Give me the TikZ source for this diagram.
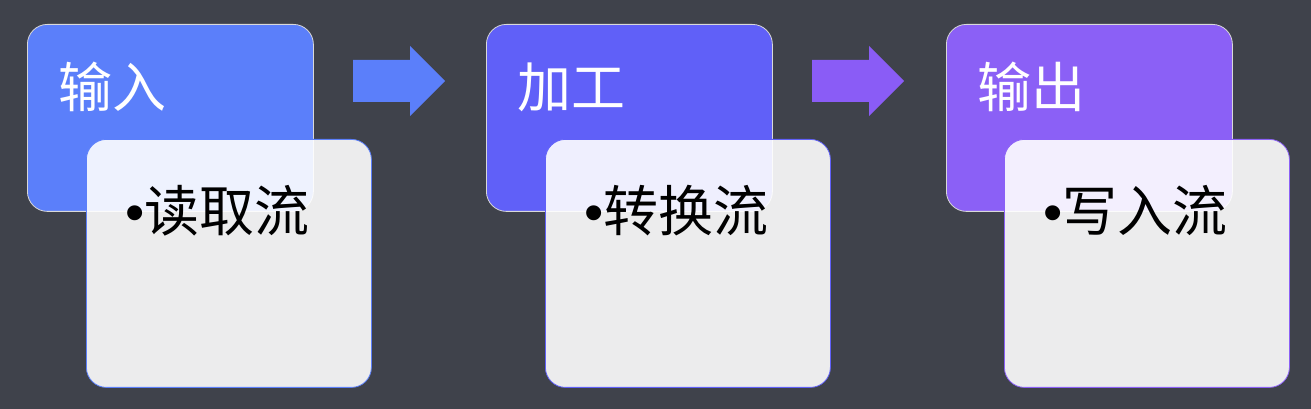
\documentclass[tikz,border=0pt]{standalone}
\usepackage{fontspec}
\newfontfamily\cjk{Noto Sans CJK SC}
\newfontfamily\latin{Liberation Sans}
\definecolor{bgdark}{HTML}{3F424B}
\definecolor{stageone}{HTML}{5B7FFA}
\definecolor{stagetwo}{HTML}{6060F8}
\definecolor{stagethree}{HTML}{8B60F6}
\definecolor{arrowtwo}{HTML}{8A5CF6}
\begin{document}
\begin{tikzpicture}[x=1pt, y=1pt,
    headbox/.style   = {draw=white!85!black, line width=0.8pt, rounded corners=20pt,
                        minimum width=286pt, minimum height=187pt, inner sep=0pt, anchor=north west},
    detailbox/.style = {fill=white, fill opacity=0.9, line width=0.8pt, rounded corners=20pt,
                        minimum width=285pt, minimum height=248pt, inner sep=0pt, anchor=north west},
    headtext/.style  = {text=white, font=\cjk\fontsize{54}{56}\selectfont, inner sep=0pt, anchor=west},
    itemtext/.style  = {text=black, font=\cjk\fontsize{55}{58}\selectfont, inner sep=0pt, anchor=west}]
    % background and page size
    \fill[bgdark] (0, 0) rectangle (1311, 409);
    \useasboundingbox (0, 0) rectangle (1311, 409);
    % corners of the boxes
    \coordinate (inputhead)   at (  27, 385);
    \coordinate (processhead) at ( 486, 385);
    \coordinate (outputhead)  at ( 946, 385);
    \coordinate (inputitem)   at (  86, 270);
    \coordinate (processitem) at ( 545, 270);
    \coordinate (outputitem)  at (1004, 270);
    % header boxes
    \node[headbox, fill=stageone]   (inbox)   at (inputhead)   {};
    \node[headbox, fill=stagetwo]   (procbox) at (processhead) {};
    \node[headbox, fill=stagethree] (outbox)  at (outputhead)  {};
    \node[headtext] (inlabel)   at ([shift={(31, -63)}]inbox.north west)   {输入};
    \node[headtext] (proclabel) at ([shift={(31, -63)}]procbox.north west) {加工};
    \node[headtext] (outlabel)  at ([shift={(31, -63)}]outbox.north west)  {输出};
    % detail boxes, lying over the headers
    \node[detailbox, draw=stageone]   (initem)   at (inputitem)   {};
    \node[detailbox, draw=stagetwo]   (procitem) at (processitem) {};
    \node[detailbox, draw=stagethree] (outitem)  at (outputitem)  {};
    \node[itemtext] (intext)   at ([shift={(39, -72)}]initem.north west)   {{\latin •}读取流};
    \node[itemtext] (proctext) at ([shift={(39, -72)}]procitem.north west) {{\latin •}转换流};
    \node[itemtext] (outtext)  at ([shift={(39, -72)}]outitem.north west)  {{\latin •}写入流};
    % arrows between the stages
    \fill[stageone] (353, 349) -- (410, 349) -- (410, 363) -- (445, 328)
                    -- (410, 293) -- (410, 307) -- (353, 307) -- cycle;
    \fill[arrowtwo] (812, 349) -- (869, 349) -- (869, 363) -- (904, 328)
                    -- (869, 293) -- (869, 307) -- (812, 307) -- cycle;
  \end{tikzpicture}
\end{document}
